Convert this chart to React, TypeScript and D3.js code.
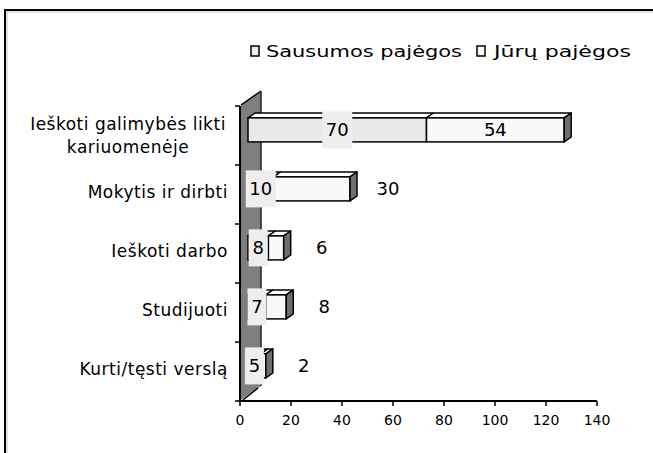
import React from "react";
import * as d3 from "d3";

// Survey answers: what the respondents plan to do, by branch of service
const categories = [
  "Ieškoti galimybės likti kariuomenėje",
  "Mokytis ir dirbti",
  "Ieškoti darbo",
  "Studijuoti",
  "Kurti/tęsti verslą",
];
const categoryLines = [
  ["Ieškoti galimybės likti", "kariuomenėje"],
  ["Mokytis ir dirbti"],
  ["Ieškoti darbo"],
  ["Studijuoti"],
  ["Kurti/tęsti verslą"],
];
const seriesNames = ["Sausumos pajėgos", "Jūrų pajėgos"];
const land = [70, 10, 8, 7, 5];
const navy = [54, 30, 6, 8, 2];
const xTicks = [0, 20, 40, 60, 80, 100, 120, 140];

const W = 653;
const H = 453;
const FONT = "'DejaVu Sans', 'Liberation Sans', Arial, sans-serif";

export default function App() {
  const x = d3.scaleLinear().domain([0, 140]).range([240, 597]);
  const y = d3.scaleBand<string>().domain(categories).range([106, 401]).padding(0);
  const axisY = 401;

  // 3D depth of the side wall and of the bars inside it
  const depth: [number, number] = [20, -14];
  const barFront = 0.4;
  const barBack = 0.75;
  const fdx = depth[0] * barFront;
  const fdy = depth[1] * barFront;
  const bdx = depth[0] * (barBack - barFront);
  const bdy = depth[1] * (barBack - barFront);
  const barH = 24;

  const stack = categories.map((c, i) => {
    const segs = [
      { key: 0, v: land[i], x0: 0, x1: land[i] },
      { key: 1, v: navy[i], x0: land[i], x1: land[i] + navy[i] },
    ];
    return { c, i, segs };
  });

  const fills = ["#e9e9e9", "#f9f9f9"];

  const wallTop = y.range()[0] - 1;
  const wallBottom = axisY - 1;
  const wallPath = [
    [241, wallTop],
    [241 + depth[0], wallTop + depth[1]],
    [241 + depth[0], wallBottom + depth[1]],
    [241, wallBottom],
  ];

  return (
    <div style={{ position: "fixed", left: 0, top: 0 }}>
      <svg width={W} height={H} style={{ display: "block", background: "#fff" }} fontFamily={FONT}>
        {/* chart frame */}
        <rect x={7} y={12} width={700} height={500} fill="none" stroke="#c8c8c8" strokeWidth={1} />
        <rect x={5} y={10} width={700} height={500} fill="none" stroke="#000" strokeWidth={2} />

        {/* legend */}
        <g>
          <rect x={251} y={46} width={8} height={10} fill="#eeeeee" stroke="#000" strokeWidth={1.5} />
          <text x={266} y={57} fontSize={16} fill="#000" textLength={196} lengthAdjust="spacingAndGlyphs">{seriesNames[0]}</text>
          <rect x={477} y={46} width={8} height={10} fill="#fafafa" stroke="#000" strokeWidth={1.5} />
          <text x={494} y={57} fontSize={16} fill="#000" textLength={137} lengthAdjust="spacingAndGlyphs">{seriesNames[1]}</text>
        </g>

        {/* side wall */}
        <path d={d3.line()(wallPath as [number, number][]) + "Z"} fill="#7f7f7f" stroke="none" />
        <line x1={wallPath[0][0]} y1={wallPath[0][1]} x2={wallPath[1][0]} y2={wallPath[1][1]} stroke="#000" strokeWidth={1.5} />
        <line x1={wallPath[1][0]} y1={wallPath[1][1]} x2={wallPath[2][0]} y2={wallPath[2][1]} stroke="#222" strokeWidth={1.5} />
        <line x1={wallPath[3][0] + 2} y1={wallPath[3][1]} x2={wallPath[2][0] - 3} y2={wallPath[2][1] + 2} stroke="#000" strokeWidth={1.5} />

        {/* category axis */}
        <line x1={240} y1={y.range()[0]} x2={240} y2={axisY} stroke="#000" strokeWidth={2} />
        {[...categories.map((c) => y(c)!), y.range()[1]].map((t, k) => (
          <line key={k} x1={235} y1={t} x2={240} y2={t} stroke="#000" strokeWidth={1.5} />
        ))}

        {/* value axis */}
        <line x1={239} y1={axisY} x2={x(140)} y2={axisY} stroke="#000" strokeWidth={2} />
        {xTicks.map((t) => (
          <g key={t}>
            <line x1={x(t)} y1={axisY} x2={x(t)} y2={axisY + 5} stroke="#000" strokeWidth={1.5} />
            <text x={x(t)} y={425} fontSize={14} textAnchor="middle" fill="#000">{t}</text>
          </g>
        ))}

        {/* category labels */}
        {categoryLines.map((lines, i) => {
          const cy = y(categories[i])! + y.bandwidth() / 2;
          if (lines.length === 1) {
            return (
              <text key={i} x={228} y={cy + 3} fontSize={17} letterSpacing={0.5} textAnchor="end" fill="#000">{lines[0]}</text>
            );
          }
          return (
            <g key={i}>
              {lines.map((l, k) => (
                <text key={k} x={128} y={cy - 6 + k * 23} fontSize={17} letterSpacing={0.5} textAnchor="middle" fill="#000">{l}</text>
              ))}
            </g>
          );
        })}

        {/* bars */}
        {stack.map(({ c, segs }) => {
          const top = y(c)! + y.bandwidth() / 2 - barH / 2 + fdy;
          const bottom = top + barH;
          const last = segs[segs.length - 1];
          const xe = x(last.x1) + fdx;
          return (
            <g key={c}>
              {segs.map((s) => {
                const a = x(s.x0) + fdx;
                const b = x(s.x1) + fdx;
                return (
                  <g key={s.key}>
                    <path
                      d={`M${a},${top}L${a + bdx},${top + bdy}L${b + bdx},${top + bdy}L${b},${top}Z`}
                      fill="#ffffff"
                      stroke="#000"
                      strokeWidth={1.5}
                      strokeLinejoin="round"
                    />
                    <rect x={a} y={top} width={b - a} height={barH} fill={fills[s.key]} stroke="#000" strokeWidth={1.5} />
                  </g>
                );
              })}
              <path
                d={`M${xe},${top}L${xe + bdx},${top + bdy}L${xe + bdx},${bottom + bdy}L${xe},${bottom}Z`}
                fill="#6e6e6e"
                stroke="#000"
                strokeWidth={1.5}
                strokeLinejoin="round"
              />
            </g>
          );
        })}

        {/* data labels */}
        {stack.map(({ c, segs }) => {
          const cy = y(c)! + y.bandwidth() / 2 + fdy;
          const s1 = segs[0];
          const s2 = segs[1];
          const c1 = (x(s1.x0) + x(s1.x1)) / 2 + fdx;
          const t1 = String(s1.v);
          const bw = t1.length * 11 + 8;
          const w2 = x(s2.x1) - x(s2.x0);
          const c2 = w2 >= 100 ? (x(s2.x0) + x(s2.x1)) / 2 + fdx : x(s2.x1) + fdx + 38;
          return (
            <g key={c} fontSize={18}>
              <rect x={c1 - bw / 2} y={cy - 18.5} width={bw} height={37} fill="#eeeeee" />
              <text x={c1} y={cy + 6.5} textAnchor="middle" fill="#000">{t1}</text>
              <text x={c2} y={cy + 6.5} textAnchor="middle" fill="#000">{s2.v}</text>
            </g>
          );
        })}
      </svg>
    </div>
  );
}
